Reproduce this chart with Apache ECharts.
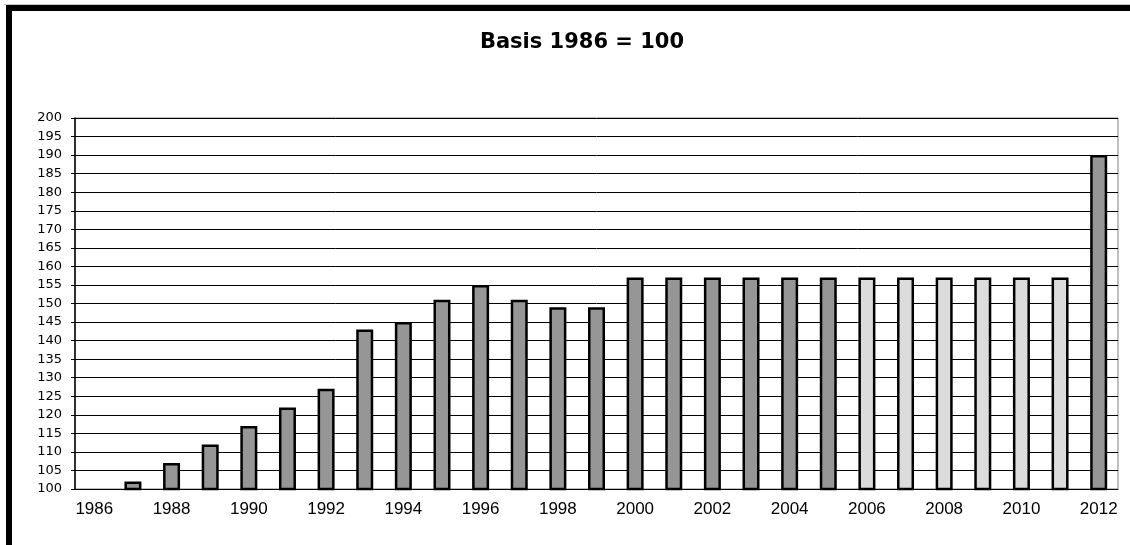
<!DOCTYPE html>
<html>
<head>
<meta charset="utf-8">
<script src="https://cdn.jsdelivr.net/npm/echarts@6/dist/echarts.min.js"></script>
<style>
  html, body { margin: 0; padding: 0; background: #fff; }
  #main { width: 1130px; height: 545px; }
</style>
</head>
<body>
<div id="main"></div>
<script>
// index values, basis 1986 = 100
const years = ['1986', '1987', '1988', '1989', '1990', '1991', '1992', '1993', '1994',
  '1995', '1996', '1997', '1998', '1999', '2000', '2001', '2002', '2003', '2004',
  '2005', '2006', '2007', '2008', '2009', '2010', '2011', '2012'];
const values = [100, 102, 107, 112, 117, 122, 127, 143, 145,
  151, 155, 151, 149, 149, 157, 157, 157, 157, 157,
  157, 157, 157, 157, 157, 157, 157, 190];
// years drawn with the lighter fill
const lightYears = ['2006', '2007', '2008', '2009', '2010', '2011'];

const chartDom = document.getElementById('main');
const myChart = echarts.init(chartDom);

const option = {
  animation: false,
  backgroundColor: '#fff',
  title: {
    text: 'Basis 1986 = 100',
    left: 577,
    top: 27,
    textAlign: 'center',
    textStyle: {
      fontFamily: 'DejaVu Sans',
      fontWeight: 'bold',
      fontSize: 21,
      color: '#000'
    }
  },
  graphic: [
    { type: 'rect', shape: { x: 4, y: 4, width: 1126, height: 1 }, style: { fill: '#c8c8c8' } },
    { type: 'rect', shape: { x: 6, y: 5, width: 1124, height: 6 }, style: { fill: '#000' } },
    { type: 'rect', shape: { x: 6, y: 5, width: 6, height: 540 }, style: { fill: '#000' } }
  ],
  grid: {
    left: 75,
    top: 118,
    right: 12,
    bottom: 56,
    show: true,
    borderColor: '#808080',
    borderWidth: 1,
    containLabel: false
  },
  xAxis: {
    type: 'category',
    data: years,
    axisLine: { lineStyle: { color: '#000', width: 1 } },
    axisTick: {
      inside: true,
      length: 5,
      interval: 1,
      alignWithLabel: false,
      lineStyle: { color: '#000' }
    },
    axisLabel: {
      interval: 1,
      margin: 12,
      fontFamily: 'Liberation Sans',
      fontSize: 17,
      color: '#000'
    }
  },
  yAxis: {
    type: 'value',
    min: 100,
    max: 200,
    interval: 5,
    axisLine: { show: true, lineStyle: { color: '#000', width: 1.5 } },
    axisTick: { show: true, length: 4, lineStyle: { color: '#000' } },
    axisLabel: {
      margin: 13,
      fontFamily: 'DejaVu Sans',
      fontSize: 13,
      color: '#000'
    },
    splitLine: { lineStyle: { color: '#000', width: 1 } }
  },
  series: [
    {
      type: 'bar',
      data: values,
      barWidth: 17,
      itemStyle: {
        color: (p) => lightYears.includes(p.name) ? '#dcdcdc' : '#969696',
        borderColor: '#000',
        borderWidth: 2.5
      }
    }
  ]
};

option && myChart.setOption(option);
</script>
</body>
</html>
